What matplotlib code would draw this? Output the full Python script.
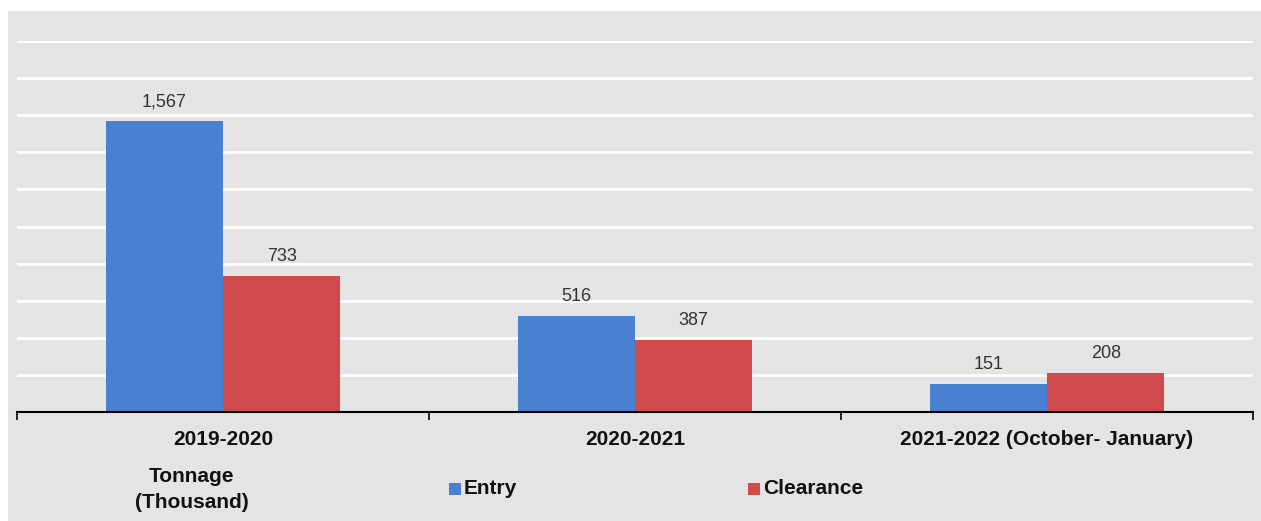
import matplotlib.pyplot as plt
import numpy as np
from matplotlib.patches import Rectangle

categories = ["2019-2020", "2020-2021", "2021-2022 (October- January)"]
entry = [1567, 516, 151]
clearance = [733, 387, 208]
series_names = ["Entry", "Clearance"]
colors = ["#4a80d0", "#cf4a4a"]

W, H = 1261, 521
fig = plt.figure(figsize=(W / 100, H / 100), dpi=100)
fig.patch.set_facecolor("white")
fig.patches.append(Rectangle((8 / W, 0), 1 - 8 / W, (H - 11) / H, transform=fig.transFigure,
                             facecolor="#e4e4e4", edgecolor="none", zorder=-10))

ax = fig.add_axes([17 / W, (H - 412) / H, (1253 - 17) / W, (412 - 41) / H])
ax.set_facecolor("none")

x = np.arange(len(categories))
bw = 0.285
b1 = ax.bar(x - bw / 2, entry, bw, color=colors[0], zorder=3)
b2 = ax.bar(x + bw / 2, clearance, bw, color=colors[1], zorder=3)

for bars, vals in ((b1, entry), (b2, clearance)):
    for r, v in zip(bars, vals):
        ax.annotate(f"{v:,}", (r.get_x() + r.get_width() / 2, v), xytext=(0, 14),
                    textcoords="offset points", ha="center", va="center",
                    fontsize=13, color="#333333", family="Liberation Sans")

ax.set_xlim(-0.5, 2.5)
ax.set_ylim(0, 2000)
ax.set_yticks(np.arange(200, 2001, 200))
ax.yaxis.grid(True, color="white", linewidth=2, zorder=0)
ax.tick_params(axis="y", left=False, labelleft=False)
for s in ["top", "right", "left"]:
    ax.spines[s].set_visible(False)
ax.spines["bottom"].set_color("black")
ax.spines["bottom"].set_linewidth(1.5)
ax.spines["bottom"].set_zorder(5)

ax.set_xticks([-0.5, 0.5, 1.5, 2.5])
ax.set_xticklabels([])
ax.tick_params(axis="x", direction="out", length=6, width=1.2, color="black")
for i, c in enumerate(categories):
    ax.text(i, -0.073, c, transform=ax.get_xaxis_transform(), ha="center", va="center",
            fontsize=15, fontweight="bold", family="Liberation Sans", color="#111111")

fig.text(192 / W, 1 - 477 / H, "Tonnage", ha="center", va="center",
         fontsize=15, fontweight="bold", family="Liberation Sans", color="#111111")
fig.text(192 / W, 1 - 502 / H, "(Thousand)", ha="center", va="center",
         fontsize=15, fontweight="bold", family="Liberation Sans", color="#111111")

for name, col, px in zip(series_names, colors, [449, 748]):
    fig.patches.append(Rectangle((px / W, 1 - 495 / H), 12 / W, 12 / H, transform=fig.transFigure,
                                 facecolor=col, edgecolor="none"))
    fig.text((px + 15) / W, 1 - 488 / H, name, ha="left", va="center", fontsize=15,
             fontweight="bold", family="Liberation Sans", color="#111111")

fig.savefig("out.png", dpi=100)
